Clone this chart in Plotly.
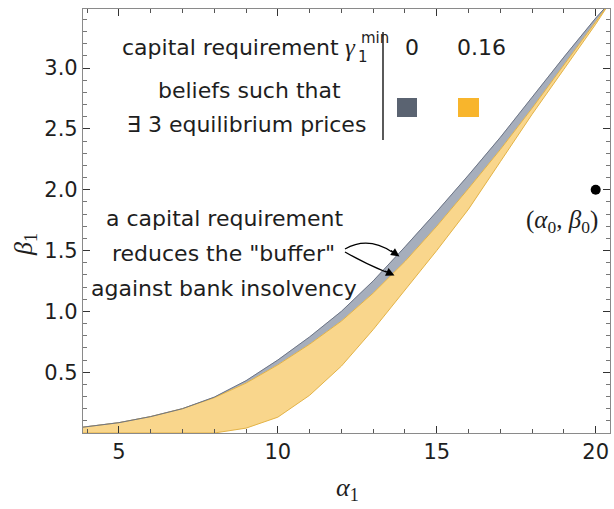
import plotly.graph_objects as go

# ---- data ----
alpha = [3.87, 5, 6, 7, 8, 9, 10, 11, 12, 13, 14, 15, 16, 17, 18, 19, 20, 20.45]
beta_upper_g0 = [0.048, 0.085, 0.135, 0.2, 0.295, 0.43, 0.6, 0.79, 1.0, 1.25, 1.53, 1.82, 2.12, 2.43, 2.76, 3.09, 3.41, 3.54]
beta_upper_g16 = [0.048, 0.085, 0.135, 0.2, 0.29, 0.41, 0.56, 0.73, 0.92, 1.15, 1.41, 1.70, 2.01, 2.33, 2.67, 3.02, 3.38, 3.54]
beta_lower_g16 = [0.0, 0.0, 0.0, 0.0, 0.0, 0.04, 0.13, 0.31, 0.55, 0.85, 1.17, 1.5, 1.84, 2.23, 2.62, 2.99, 3.36, 3.54]

prior_alpha = [20]
prior_beta = [2.0]

x_ticks = [5, 10, 15, 20]
y_ticks = [0.5, 1.0, 1.5, 2.0, 2.5, 3.0]
y_ticktext = ["0.5", "1.0", "1.5", "2.0", "2.5", "3.0"]

legend_values = ["0", "0.16"]

GRAY_FILL = "#a6aebc"
GRAY_EDGE = "#6c7485"
YEL_FILL = "#f9d68c"
YEL_EDGE = "#e3b347"
GRAY_SW = "#5a6371"
YEL_SW = "#f8b52c"

W, H = 614, 509
L, R, T, B = 83, 4, 9, 76
PW, PH = W - L - R, H - T - B

def px(x):
    return (x - L) / PW

def py(y):
    return (H - B - y) / PH

fig = go.Figure()

# gray band (gamma = 0)
fig.add_trace(go.Scatter(
    x=alpha + alpha[::-1], y=beta_upper_g0 + beta_upper_g16[::-1],
    fill="toself", fillcolor=GRAY_FILL, mode="lines",
    line=dict(color=GRAY_FILL, width=0.5), hoverinfo="skip", showlegend=False))
# yellow band (gamma = 0.16)
fig.add_trace(go.Scatter(
    x=alpha + alpha[::-1], y=beta_upper_g16 + beta_lower_g16[::-1],
    fill="toself", fillcolor=YEL_FILL, mode="lines",
    line=dict(color=YEL_EDGE, width=1), hoverinfo="skip", showlegend=False))
# upper edge of gray region
fig.add_trace(go.Scatter(
    x=alpha, y=beta_upper_g0, mode="lines",
    line=dict(color=GRAY_EDGE, width=1), hoverinfo="skip", showlegend=False))
# prior point
fig.add_trace(go.Scatter(
    x=prior_alpha, y=prior_beta, mode="markers",
    marker=dict(color="black", size=10), showlegend=False))

SANS = "DejaVu Sans"
SERIF = "Liberation Serif"
TXT = "#1e1e1e"
FS = 21

ann = []
def text(s, x, y, size=FS, xanchor="center", font=SANS, angle=0):
    ann.append(dict(text=s, x=px(x), y=py(y), xref="paper", yref="paper",
                    xanchor=xanchor, yanchor="middle", showarrow=False,
                    textangle=angle,
                    font=dict(family=font, size=size, color=TXT)))

# legend block
text("capital requirement", 341, 47, size=22, xanchor="right")
text("<i>γ</i>", 343, 48, size=25, xanchor="left", font=SERIF)
text("min", 359, 38, size=15, xanchor="left")
text("1", 356, 57, size=15, xanchor="left")
text(legend_values[0], 412, 47, size=22)
text(legend_values[1], 481, 47, size=22)
text("beliefs such that", 249, 90, size=22)
text("∃ 3 equilibrium prices", 246, 124, size=22)

# annotation
text("a capital requirement", 224, 218, size=22)
text("reduces the \"buffer\"", 223, 253, size=22)
text("against bank insolvency", 224, 288, size=22)

# prior label
text("(<i>α</i><sub>0</sub>, <i>β</i><sub>0</sub>)", 562, 221, size=25, font=SERIF)

# axis titles
text("<i>α</i><sub>1</sub>", 347, 489, size=26, font=SERIF)
text("<i>β</i><sub>1</sub>", 25, 245, size=26, font=SERIF, angle=-90)

# arrow heads
def to_data(x, y):
    return 5 + (x - 119.3) / 31.8, (434.0 - y) / 122.0

for (tx, ty), (dx, dy) in [((400, 257), (-10, -7)), ((395, 276), (-11, -5))]:
    a, b = to_data(tx, ty)
    ann.append(dict(x=a, y=b, xref="x", yref="y", ax=dx, ay=dy, text="",
                    showarrow=True, arrowhead=2, arrowsize=1.3, arrowwidth=1.3,
                    arrowcolor="black"))

shapes = []
# legend divider
shapes.append(dict(type="line", xref="paper", yref="paper",
                   x0=px(383), x1=px(383), y0=py(32), y1=py(140),
                   line=dict(color="black", width=1.3)))
# swatches
shapes.append(dict(type="rect", xref="paper", yref="paper",
                   x0=px(397), x1=px(417), y0=py(117), y1=py(98),
                   fillcolor=GRAY_SW, line=dict(width=0)))
shapes.append(dict(type="rect", xref="paper", yref="paper",
                   x0=px(458), x1=px(479), y0=py(117), y1=py(98),
                   fillcolor=YEL_SW, line=dict(width=0)))
# curved arrow shafts
def p(x, y):
    return f"{px(x):.5f},{py(y):.5f}"
shapes.append(dict(type="path", xref="paper", yref="paper",
                   path=f"M {p(345,249)} Q {p(368,236)} {p(392,252)}",
                   line=dict(color="black", width=1.3)))
shapes.append(dict(type="path", xref="paper", yref="paper",
                   path=f"M {p(345,252)} Q {p(366,264)} {p(386,272)}",
                   line=dict(color="black", width=1.3)))

axis_common = dict(showgrid=False, zeroline=False, showline=True,
                   linecolor="#8a8a8a", linewidth=1.2, mirror="ticks",
                   ticks="inside", ticklen=7, tickwidth=1, tickcolor="#333",
                   tickfont=dict(family=SANS, size=FS, color=TXT))

fig.update_layout(
    width=W, height=H,
    margin=dict(l=L, r=R, t=T, b=B),
    plot_bgcolor="white", paper_bgcolor="white",
    xaxis=dict(range=[3.87, 20.45], tickvals=x_ticks,
               minor=dict(ticks="inside", dtick=1, tick0=0, ticklen=4, tickcolor="#555"),
               **axis_common),
    yaxis=dict(range=[0, 3.485], tickvals=y_ticks, ticktext=y_ticktext,
               minor=dict(ticks="inside", dtick=0.1, tick0=0, ticklen=4, tickcolor="#777"),
               **axis_common),
    annotations=ann, shapes=shapes,
)

fig.write_html("out.html", config={"displayModeBar": False},
               post_script="document.body.style.margin='0';document.body.style.overflow='hidden';")
